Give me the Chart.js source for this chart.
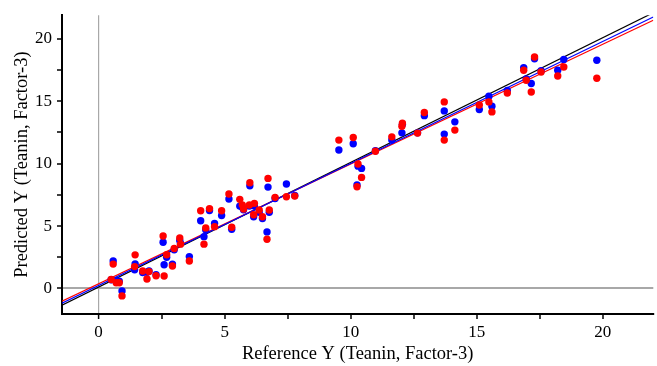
<!DOCTYPE html>
<html>
<head>
<meta charset="utf-8">
<script src="https://cdn.jsdelivr.net/npm/chart.js@4/dist/chart.umd.min.js"></script>
<style>
  html, body { margin: 0; padding: 0; background: #fff; }
  #c { display: block; }
</style>
</head>
<body>
<canvas id="c" width="657" height="366"></canvas>
<script>
// Reference Y values of the samples
const refY = [0.5, 0.58, 0.7, 0.82, 0.93, 1.45, 1.43, 1.75, 1.92, 2.0,
  2.28, 2.6, 2.56, 2.7, 2.93, 3.0, 3.22, 3.25, 3.6, 4.05,
  4.18, 4.25, 4.4, 4.6, 4.88, 5.17, 5.28, 5.6, 5.7, 5.75,
  6.0, 5.98, 6.15, 6.18, 6.37, 6.5, 6.68, 6.72, 6.77, 7.0,
  7.45, 7.78, 9.53, 10.1, 10.29, 10.43, 10.25, 10.98, 11.63, 12.03,
  12.05, 12.65, 12.92, 13.71, 13.71, 14.13, 15.1, 15.48, 15.6, 16.21,
  16.86, 16.96, 17.16, 17.29, 17.55, 18.21, 18.45, 19.76];
// Predicted Y, model shown in blue
const predBlue = [0.7, 2.2, 0.62, 0.58, -0.2, 1.97, 1.5, 1.27, 1.3, 1.4,
  1.1, 1.9, 3.7, 2.5, 1.95, 3.1, 3.85, 3.6, 2.55, 5.43,
  4.15, 4.7, 6.25, 5.2, 5.85, 7.17, 4.74, 6.6, 6.5, 6.3,
  8.22, 6.6, 5.75, 6.6, 6.1, 5.6, 4.53, 8.12, 6.1, 7.2,
  8.37, 7.45, 11.09, 11.6, 9.8, 9.62, 8.29, 11.03, 11.9, 12.47,
  13.15, 12.47, 13.85, 14.23, 12.37, 13.35, 14.34, 15.41, 14.6, 15.87,
  17.7, 16.8, 16.42, 18.4, 17.45, 17.49, 18.35, 18.29];
// Predicted Y, model shown in red
const predRed = [0.72, 1.95, 0.45, 0.45, -0.6, 2.69, 1.75, 1.4, 0.75, 1.35,
  1.02, 1.0, 4.2, 2.7, 1.8, 3.2, 4.05, 3.55, 2.2, 6.23,
  3.55, 4.85, 6.4, 4.95, 6.22, 7.57, 4.9, 7.14, 6.7, 6.37,
  8.47, 6.69, 5.9, 6.82, 6.29, 5.75, 3.94, 8.82, 6.29, 7.3,
  7.35, 7.4, 11.89, 12.1, 9.97, 8.9, 8.15, 11.0, 12.15, 13.0,
  13.25, 12.45, 14.1, 14.95, 11.89, 12.69, 14.7, 14.95, 14.15, 15.67,
  17.49, 16.69, 15.75, 18.55, 17.35, 17.03, 17.75, 16.85];
// Fit lines: endpoints [x, y] across the plotted range
const lineX = [-1.45, 22];
const lineBlackY = [-1.35, 22.1];
const lineBlueY = [-1.19, 21.75];
const lineRedY = [-1.02, 21.5];
// Axis ticks
const tickValues = [0, 2.5, 5, 7.5, 10, 12.5, 15, 17.5, 20];
const tickLabels = ['0', '', '5', '', '10', '', '15', '', '20'];

const xTitle = 'Reference Y (Teanin, Factor-3)';
const yTitle = 'Predicted Y (Teanin, Factor-3)';

const toPts = (xs, ys) => xs.map((x, i) => ({ x: x, y: ys[i] }));

const serif = "'Liberation Serif', 'Times New Roman', serif";

function axis(min, max, title, titlePad, zeroWidth, fitKey, fitVal) {
  return {
    type: 'linear',
    min: min,
    max: max,
    afterBuildTicks: (s) => { s.ticks = tickValues.map(v => ({ value: v })); },
    afterFit: (s) => { s[fitKey] = fitVal; },
    ticks: {
      autoSkip: false,
      maxRotation: 0,
      color: '#000',
      padding: fitKey === 'width' ? 5 : 3,
      font: { family: serif, size: 17 },
      callback: (v) => { const i = tickValues.indexOf(v); return i >= 0 ? tickLabels[i] : ''; }
    },
    grid: {
      drawOnChartArea: true,
      drawTicks: true,
      tickLength: 5,
      tickWidth: 1.5,
      tickColor: '#000',
      color: (ctx) => (ctx.tick && ctx.tick.value === 0) ? '#a8a8a8' : 'rgba(0,0,0,0)',
      lineWidth: (ctx) => (ctx.tick && ctx.tick.value === 0) ? zeroWidth : 0
    },
    border: { display: true, color: '#000', width: 2 },
    title: {
      display: true,
      text: title,
      color: '#000',
      font: { family: serif, size: 18.5 },
      padding: titlePad
    }
  };
}

new Chart(document.getElementById('c'), {
  type: 'scatter',
  data: {
    datasets: [
      { label: 'Red', data: toPts(refY, predRed), backgroundColor: '#ff0000', borderColor: '#ff0000',
        pointRadius: 3.7, pointBorderWidth: 0, pointHoverRadius: 3.7, order: 1 },
      { label: 'Blue', data: toPts(refY, predBlue), backgroundColor: '#0000ff', borderColor: '#0000ff',
        pointRadius: 3.7, pointBorderWidth: 0, pointHoverRadius: 3.7, order: 2 },
      { type: 'line', label: 'Blue fit', data: toPts(lineX, lineBlueY), borderColor: '#0000ff',
        borderWidth: 1.2, pointRadius: 0, fill: false, order: 3 },
      { type: 'line', label: 'Red fit', data: toPts(lineX, lineRedY), borderColor: '#ff0000',
        borderWidth: 1.2, pointRadius: 0, fill: false, order: 4 },
      { type: 'line', label: 'Black fit', data: toPts(lineX, lineBlackY), borderColor: '#000000',
        borderWidth: 1.2, pointRadius: 0, fill: false, order: 5 }
    ]
  },
  options: {
    responsive: false,
    animation: false,
    devicePixelRatio: 1,
    layout: { padding: { top: 15, right: 0, left: 0, bottom: 0 } },
    plugins: { legend: { display: false }, tooltip: { enabled: false } },
    scales: {
      x: axis(-1.45, 22, xTitle, { top: 0, bottom: 1 }, 1.2, 'height', 52),
      y: axis(-2.05, 21.9, yTitle, { top: 11, bottom: 0 }, 2, 'width', 62)
    }
  }
});
</script>
</body>
</html>
